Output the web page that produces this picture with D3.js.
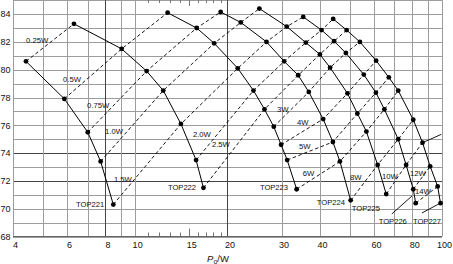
<!DOCTYPE html>
<html>
<head>
<meta charset="utf-8">
<script src="https://cdn.jsdelivr.net/npm/d3@7"></script>
<style>
  body { margin: 0; background: #fff; }
  svg { display: block; font-family: Arial, "Liberation Sans", sans-serif; }
</style>
</head>
<body>
<div id="chart"></div>
<script>
// power loss levels (dashed lines), in the order they cross the curves
var lossLevels = ["0.25W", "0.5W", "0.75W", "1.0W", "1.5W", "2.0W", "2.5W", "3W", "4W", "5W", "6W", "8W", "10W", "12W", "14W"];

// devices, and the loss level of the first point of each curve
var devices = ["TOP221", "TOP222", "TOP223", "TOP224", "TOP225", "TOP226", "TOP227"];
var firstLoss = [0, 0, 1, 2, 3, 4, 5];

// output power Po (W) and efficiency (%)
var po221 = [4.41, 5.88, 7.01, 7.72, 8.49];
var eff221 = [80.6, 77.9, 75.5, 73.4, 70.3];

var po222 = [6.32, 9.04, 10.9, 12.35, 14.1, 15.8, 16.7];
var eff222 = [83.3, 81.5, 79.9, 78.5, 76.1, 73.5, 71.5];

var po223 = [12.76, 15.87, 18.1, 21.6, 24.3, 26.4, 28.3, 29.9, 31.3, 33.6];
var eff223 = [84.1, 83.0, 81.9, 80.1, 78.5, 77.15, 75.9, 74.6, 73.5, 71.4];

var po224 = [19.0, 22.1, 26.8, 30.6, 34.0, 36.8, 41.0, 44.1, 46.5, 50.4];
var eff224 = [84.15, 83.4, 82.0, 80.6, 79.6, 78.4, 76.45, 74.8, 73.4, 70.6];

var po225 = [25.4, 31.2, 36.0, 40.0, 43.2, 49.2, 53.0, 56.7, 61.7, 65.8];
var eff225 = [84.4, 83.1, 81.95, 81.1, 80.15, 78.3, 76.85, 75.55, 73.15, 71.05];

var po226 = [35.3, 40.5, 44.5, 48.6, 55.6, 60.9, 64.9, 72.0, 76.4, 80.6, 82.1];
var eff226 = [83.8, 82.85, 82.05, 81.2, 79.65, 78.35, 77.15, 75.0, 73.15, 71.4, 70.4];

var po227 = [44.2, 48.9, 54.0, 61.0, 67.1, 72.0, 80.6, 86.4, 91.5, 96.8, 98.9];
var eff227 = [83.65, 82.85, 82.0, 80.65, 79.45, 78.5, 76.4, 74.75, 73.05, 71.6, 70.4];

var poLists = [po221, po222, po223, po224, po225, po226, po227];
var effLists = [eff221, eff222, eff223, eff224, eff225, eff226, eff227];

// where the text labels sit (Po, efficiency of the text start / baseline)
var lossLabelPo = [4.41, 5.82, 6.97, 7.98, 8.53, 15.43, 17.79, 28.98, 33.67, 34.18, 35.2, 50.1, 63.7, 78.6, 81.6];
var lossLabelEff = [81.92, 79.15, 77.24, 75.37, 71.92, 75.19, 74.44, 76.96, 75.99, 74.29, 72.32, 72.03, 72.14, 72.32, 71.06];
var deviceLabelPo = [6.42, 12.79, 25.5, 39.1, 50.8, 62.2, 80.4];
var deviceLabelEff = [70.09, 71.35, 71.35, 70.27, 69.8, 68.9, 68.9];

// short leader lines near the right edge
var leaders = [
  [[68.6, 69.62], [79.8, 70.91]],
  [[86.0, 69.69], [97.6, 70.34]],
  [[86.4, 74.75], [99.5, 75.35]]
];

// axes
var xTicks = [4, 6, 8, 10, 15, 20, 30, 40, 60, 80, 100];
var xGrid = [4, 5, 6, 7, 8, 9, 10, 20, 30, 40, 50, 60, 70, 80, 90, 100];
var xMinor = [11, 12, 13, 14, 15, 16, 17, 18, 19];
var yTicks = [68, 70, 72, 74, 76, 78, 80, 82, 84];
var yGrid = d3.range(68, 86);

var svgWidth = 453;
var svgHeight = 264;

var svg = d3.select("#chart")
  .append("svg")
  .attr("width", svgWidth)
  .attr("height", svgHeight);

var x = d3.scaleLog().domain([4, 100]).range([13, 442]);
var y = d3.scaleLinear().domain([68, 85]).range([236.5, 0.2]);

var plotTop = y(85), plotBottom = y(68);

// grid
svg.append("g").selectAll("line")
  .data(yGrid)
  .enter()
  .append("line")
  .attr("x1", x(4))
  .attr("x2", x(100))
  .attr("y1", d => Math.round(y(d)) + 0.5)
  .attr("y2", d => Math.round(y(d)) + 0.5)
  .attr("stroke", d => (d === 72 || d === 74) ? "#444" : "#9c9c9c")
  .attr("stroke-width", 1);

svg.append("g").selectAll("line")
  .data(xGrid)
  .enter()
  .append("line")
  .attr("x1", d => Math.round(x(d)) + 0.5)
  .attr("x2", d => Math.round(x(d)) + 0.5)
  .attr("y1", plotTop)
  .attr("y2", plotBottom)
  .attr("stroke", d => (d === 8 || d === 20) ? "#444" : "#9c9c9c")
  .attr("stroke-width", 1);

// minor ticks between 10 and 20, bottom and top
svg.append("g").selectAll("line")
  .data(xMinor)
  .enter()
  .append("line")
  .attr("x1", d => Math.round(x(d)) + 0.5)
  .attr("x2", d => Math.round(x(d)) + 0.5)
  .attr("y1", plotBottom)
  .attr("y2", d => plotBottom - (d === 15 ? 8 : 4))
  .attr("stroke", "#777");

svg.append("g").selectAll("line")
  .data(xMinor)
  .enter()
  .append("line")
  .attr("x1", d => Math.round(x(d)) + 0.5)
  .attr("x2", d => Math.round(x(d)) + 0.5)
  .attr("y1", 0)
  .attr("y2", d => d === 15 ? 6 : 3)
  .attr("stroke", "#777");

// bottom axis line
svg.append("line")
  .attr("x1", x(4)).attr("x2", x(100))
  .attr("y1", plotBottom).attr("y2", plotBottom)
  .attr("stroke", "#666");

// tick labels
var bottomAxis = d3.axisBottom(x).tickValues(xTicks).tickFormat(d3.format("d")).tickSize(0).tickPadding(5.6);
var leftAxis = d3.axisLeft(y).tickValues(yTicks).tickSize(0).tickPadding(2.5);

var gx = svg.append("g")
  .attr("transform", `translate(2, ${plotBottom})`)
  .call(bottomAxis);
gx.select(".domain").remove();
gx.selectAll("text").attr("font-size", 9).attr("fill", "#111").attr("font-family", null);

var gy = svg.append("g")
  .attr("transform", `translate(${x(4)}, 0)`)
  .call(leftAxis);
gy.select(".domain").remove();
gy.selectAll("text").attr("font-size", 9).attr("fill", "#111").attr("font-family", null);

// build points
var points = [];
devices.forEach(function(dev, i) {
  poLists[i].forEach(function(p, j) {
    points.push({ device: i, loss: firstLoss[i] + j, po: p, eff: effLists[i][j] });
  });
});

var line = d3.line()
  .x(d => x(d.po))
  .y(d => y(d.eff));

// dashed constant-loss lines
var lossGroup = svg.append("g");
lossLevels.forEach(function(label, k) {
  var pts = points.filter(d => d.loss === k).sort((a, b) => a.po - b.po);
  lossGroup.append("path")
    .attr("d", line(pts))
    .attr("fill", "none")
    .attr("stroke", "#000")
    .attr("stroke-width", 0.9)
    .attr("stroke-dasharray", "3.5,2.5");
});

// solid device curves
var curveGroup = svg.append("g");
devices.forEach(function(dev, i) {
  var pts = points.filter(d => d.device === i);
  curveGroup.append("path")
    .attr("d", line(pts))
    .attr("fill", "none")
    .attr("stroke", "#000")
    .attr("stroke-width", 1);
});

// leader lines
svg.append("g").selectAll("path")
  .data(leaders)
  .enter()
  .append("path")
  .attr("d", d => d3.line().x(p => x(p[0])).y(p => y(p[1]))(d))
  .attr("fill", "none")
  .attr("stroke", "#000")
  .attr("stroke-width", 0.9);

// dots
svg.append("g").selectAll("circle")
  .data(points)
  .enter()
  .append("circle")
  .attr("cx", d => x(d.po))
  .attr("cy", d => y(d.eff))
  .attr("r", 2.4)
  .attr("fill", "#000");

// loss labels
svg.append("g").selectAll("text")
  .data(lossLevels)
  .enter()
  .append("text")
  .attr("x", (d, k) => x(lossLabelPo[k]))
  .attr("y", (d, k) => y(lossLabelEff[k]))
  .attr("font-size", 7.7)
  .attr("fill", "#111")
  .text(d => d);

// device labels
svg.append("g").selectAll("text")
  .data(devices)
  .enter()
  .append("text")
  .attr("x", (d, i) => x(deviceLabelPo[i]))
  .attr("y", (d, i) => y(deviceLabelEff[i]))
  .attr("font-size", 7.6)
  .attr("fill", "#111")
  .text(d => d);

// axis title  Po/W
var title = svg.append("text")
  .attr("x", 218)
  .attr("y", 262)
  .attr("text-anchor", "middle")
  .attr("font-size", 9.5)
  .attr("fill", "#111");
title.append("tspan").attr("font-style", "italic").text("P");
title.append("tspan").attr("font-size", 7).attr("dy", 1.5).text("o");
title.append("tspan").attr("dy", -1.5).text("/W");
</script>
</body>
</html>
